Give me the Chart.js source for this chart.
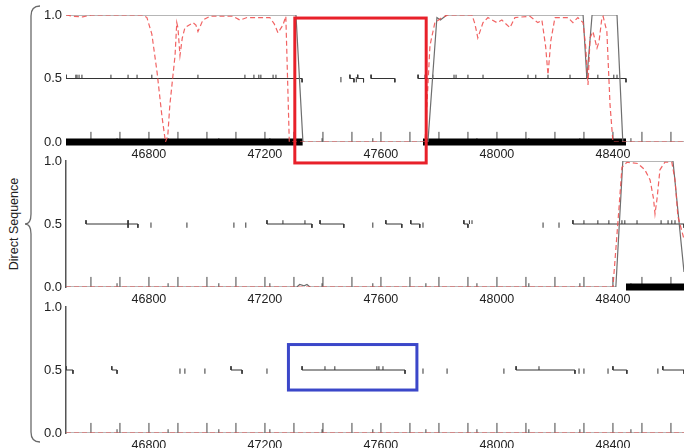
<!DOCTYPE html>
<html>
<head>
<meta charset="utf-8">
<script src="https://cdn.jsdelivr.net/npm/chart.js@4"></script>
<style>
  body { margin: 0; background: #fff; }
  #wrap { position: relative; width: 684px; height: 448px; overflow: hidden; background: #fff; }
  canvas { position: absolute; left: 0; }
  #brace { position: absolute; left: 0; top: 0; }
  #side {
    position: absolute; left: 14px; top: 224px;
    transform: translate(-50%, -50%) rotate(-90deg);
    font: 12.5px "Liberation Sans", Arial, sans-serif; color: #222; white-space: nowrap;
  }
</style>
</head>
<body>
<div id="wrap">
  <svg id="brace" width="60" height="448">
    <path d="M40 6 Q31 6 31 16 L31 214 Q31 224 25 224 Q31 224 31 234 L31 432 Q31 442 40 442" fill="none" stroke="#6a6a6a" stroke-width="1.3"/>
  </svg>
  <div id="side">Direct Sequence</div>
  <canvas id="p1" width="684" height="168" style="top:0px"></canvas>
  <canvas id="p2" width="684" height="158" style="top:145px"></canvas>
  <canvas id="p3" width="684" height="156" style="top:292px"></canvas>
</div>
<script>
const X_MIN = 46514;
const X_MAX = 48645;
const xLabels = [46800, 47200, 47600, 48000, 48400];
const yLabels = [0, 0.5, 1];

// ruler marks along the bottom of every panel
const majorTicks = [46600, 46700, 46800, 46900, 47000, 47100, 47200, 47300, 47400, 47500,
    47600, 47700, 47800, 47900, 48000, 48100, 48200, 48300, 48400, 48500, 48600];
const minorTicks = [46690, 46866, 47041, 47217, 47397, 47572, 47755, 47931, 48110, 48286, 48462];

// panel 1
const gray1X = [46514, 47307, 47331, 47762, 47793, 47805, 47827, 48297, 48310, 48328, 48414, 48434, 48645];
const gray1Y = [1.0, 1.0, 0.0, 0.0, 0.98, 0.96, 1.0, 1.0, 0.5, 1.0, 1.0, 0.0, 0.0];
const red1X = [46514, 46540, 46572, 46600, 46779, 46793, 46810, 46828, 46845, 46857, 46865, 46872, 46890, 46896,
    46900, 46907, 46915, 46924, 46952, 46962, 46969, 46986, 47010, 47090, 47114, 47138, 47217, 47232, 47245,
    47262, 47272, 47278, 47284, 47752, 47769, 47786, 47810, 47831, 47914, 47924, 47934, 47952, 47969, 48000,
    48017, 48045, 48062, 48114, 48141, 48155, 48168, 48176, 48186, 48200, 48245, 48262, 48279, 48297, 48306,
    48314, 48321, 48331, 48345, 48352, 48362, 48366, 48379, 48390, 48400, 48645];
const red1Y = [1.0, 0.99, 0.985, 1.0, 1.0, 0.98, 0.85, 0.55, 0.2, 0.0, 0.05, 0.29, 0.68, 0.94,
    0.9, 0.68, 0.82, 0.9, 0.94, 0.92, 0.87, 0.96, 0.99, 0.99, 0.96, 0.98, 0.98, 0.93, 0.86,
    0.92, 0.99, 0.5, 0.0, 0.0, 0.76, 0.94, 0.98, 1.0, 1.0, 0.93, 0.82, 0.94, 0.98, 0.94,
    0.96, 0.9, 0.98, 0.99, 0.94, 0.96, 0.75, 0.53, 0.8, 0.98, 0.98, 0.94, 0.98, 0.94, 0.75,
    0.45, 0.82, 0.87, 0.74, 0.79, 0.98, 0.99, 0.87, 0.29, 0.0, 0.0];
const bars1 = [[46514, 47330], [47745, 48445]];
const segs1 = [[46514, 47328], [47493, 47507], [47520, 47540], [47566, 47648], [47728, 48445]];
const up1 = [46548, 46552, 46559, 46569, 46669, 46728, 46759, 46810, 46969, 47131, 47162, 47179, 47186, 47228, 47238,
    47752, 47779, 47852, 47859, 47900, 47952, 48107, 48134, 48176, 48252, 48310, 48348, 48403, 48414];
const lone1 = [47462, 47515];

// panel 2
const gray2X = [46514, 47310, 47320, 47335, 47345, 47355, 48410, 48434, 48607, 48645];
const gray2Y = [0, 0, 0.02, 0.01, 0.02, 0, 0, 1.0, 1.0, 0.12];
const red2X = [46514, 48400, 48420, 48431, 48448, 48486, 48510, 48528, 48540, 48545, 48552, 48562, 48579, 48603,
    48614, 48624, 48645];
const red2Y = [0, 0, 0.6, 0.95, 0.99, 0.98, 0.93, 0.85, 0.7, 0.58, 0.7, 0.93, 0.99, 0.99, 0.85, 0.56, 0.38];
const bars2 = [[48445, 48645]];
const segs2 = [[46583, 46728], [46728, 46762], [47207, 47362], [47390, 47472], [47617, 47672], [47703, 47734],
    [47886, 47900], [48262, 48645]];
const up2 = [47262, 47338, 47905, 47914, 48300, 48348, 48386, 48431, 48441, 48483, 48566, 48590, 48603, 48614];
const lone2 = [46807, 46931, 47093, 47134, 47572, 47745, 48159, 48214];

// panel 3
const gray3X = [46514, 48645];
const gray3Y = [0, 0];
const red3X = [46514, 48645];
const red3Y = [0, 0];
const segs3 = [[46514, 46538], [46672, 46690], [47083, 47121], [47328, 47683], [48066, 48269], [48400, 48448],
    [48572, 48645]];
const up3 = [47407, 47441, 47586, 47593, 47607, 48145];
const lone3 = [46907, 46924, 46993, 47207, 47745, 47828, 48024, 48283, 48300, 48383, 48555];

// highlighted regions (data units of the panel they are drawn on)
const redBox = { x0: 47303, x1: 47756, y0: -0.165, y1: 0.976, color: '#e8202a' };
const blueBox = { x0: 47281, x1: 47724, y0: 0.341, y1: 0.702, color: '#3b47c9' };

Chart.defaults.font.family = '"Liberation Sans", Arial, sans-serif';
Chart.defaults.color = '#222';

const TK = 0.03;

function toPoints(xs, ys) {
    return xs.map((x, i) => ({ x: x, y: ys[i] }));
}

function barPoints(ranges) {
    const pts = [];
    ranges.forEach(([a, b]) => pts.push({ x: a, y: 0 }, { x: b, y: 0 }, { x: b, y: null }));
    return pts;
}

function featurePoints(segs, ups, lones) {
    const pts = [];
    segs.forEach(([a, b]) => {
        pts.push({ x: a, y: 0.5 + TK }, { x: a, y: 0.5 }, { x: b, y: 0.5 }, { x: b, y: 0.5 - TK }, { x: b, y: null });
    });
    ups.forEach(t => pts.push({ x: t, y: 0.5 }, { x: t, y: 0.5 + TK }, { x: t, y: null }));
    lones.forEach(t => pts.push({ x: t, y: 0.5 - TK }, { x: t, y: 0.5 + TK * 0.4 }, { x: t, y: null }));
    return pts;
}

function tickPoints(list, h) {
    const pts = [];
    list.forEach(t => pts.push({ x: t, y: 0 }, { x: t, y: h }, { x: t, y: null }));
    return pts;
}

const boxPlugin = {
    id: 'boxes',
    afterDraw(chart, args, opts) {
        const { ctx, scales } = chart;
        (opts.items || []).forEach(b => {
            const l = scales.x.getPixelForValue(b.x0);
            const r = scales.x.getPixelForValue(b.x1);
            const t = scales.y.getPixelForValue(b.y1);
            const btm = scales.y.getPixelForValue(b.y0);
            ctx.save();
            ctx.strokeStyle = b.color;
            ctx.lineWidth = 3;
            ctx.strokeRect(l, t, r - l, btm - t);
            ctx.restore();
        });
    }
};

function lineSet(data, color, width, extra) {
    return Object.assign({
        data: data,
        borderColor: color,
        borderWidth: width,
        pointRadius: 0,
        pointHoverRadius: 0,
        tension: 0,
        fill: false,
        spanGaps: false,
        borderCapStyle: 'butt'
    }, extra || {});
}

function makePanel(id, cfg) {
    const datasets = [
        lineSet(toPoints(cfg.redX, cfg.redY), 'rgba(240,82,82,0.9)', 1.2, { borderDash: [5, 3] }),
        lineSet(toPoints(cfg.grayX, cfg.grayY), '#6e6e6e', 1.2),
        lineSet(barPoints(cfg.bars), '#000', 7, { clip: false }),
        lineSet(featurePoints(cfg.segs, cfg.ups, cfg.lones), '#333', 1),
        lineSet(tickPoints(majorTicks, 0.08), '#444', 1),
        lineSet(tickPoints(minorTicks, 0.03), '#444', 1)
    ];
    return new Chart(document.getElementById(id), {
        type: 'line',
        data: { datasets: datasets },
        options: {
            responsive: false,
            animation: false,
            events: [],
            layout: { padding: { top: cfg.padTop, left: 0, right: 0, bottom: 0 } },
            plugins: {
                legend: { display: false },
                tooltip: { enabled: false },
                boxes: { items: cfg.boxes }
            },
            scales: {
                x: {
                    type: 'linear',
                    min: X_MIN,
                    max: X_MAX,
                    afterBuildTicks: s => { s.ticks = xLabels.map(v => ({ value: v })); },
                    afterFit: s => { s.height = cfg.xHeight; },
                    grid: { display: false, drawTicks: false },
                    border: { display: false },
                    ticks: {
                        padding: 5,
                        maxRotation: 0,
                        autoSkip: false,
                        font: { size: 12.5 },
                        color: '#222',
                        callback: v => String(v)
                    }
                },
                y: {
                    min: 0,
                    max: 1,
                    afterBuildTicks: s => { s.ticks = yLabels.map(v => ({ value: v })); },
                    afterFit: s => { s.width = 66; },
                    grid: { display: false, drawTicks: false },
                    border: { display: cfg.yBorder, color: '#555', width: 1.5 },
                    ticks: {
                        padding: 4,
                        font: { size: 13 },
                        color: '#222',
                        callback: v => Number(v).toFixed(1)
                    }
                }
            }
        },
        plugins: [boxPlugin]
    });
}

makePanel('p1', {
    redX: red1X, redY: red1Y, grayX: gray1X, grayY: gray1Y, bars: bars1,
    segs: segs1, ups: up1, lones: lone1,
    padTop: 15, xHeight: 26, yBorder: false, boxes: [redBox]
});
makePanel('p2', {
    redX: red2X, redY: red2Y, grayX: gray2X, grayY: gray2Y, bars: bars2,
    segs: segs2, ups: up2, lones: lone2,
    padTop: 16, xHeight: 16, yBorder: true, boxes: []
});
makePanel('p3', {
    redX: red3X, redY: red3Y, grayX: gray3X, grayY: gray3Y, bars: [],
    segs: segs3, ups: up3, lones: lone3,
    padTop: 15, xHeight: 15, yBorder: true, boxes: [blueBox]
});
</script>
</body>
</html>
